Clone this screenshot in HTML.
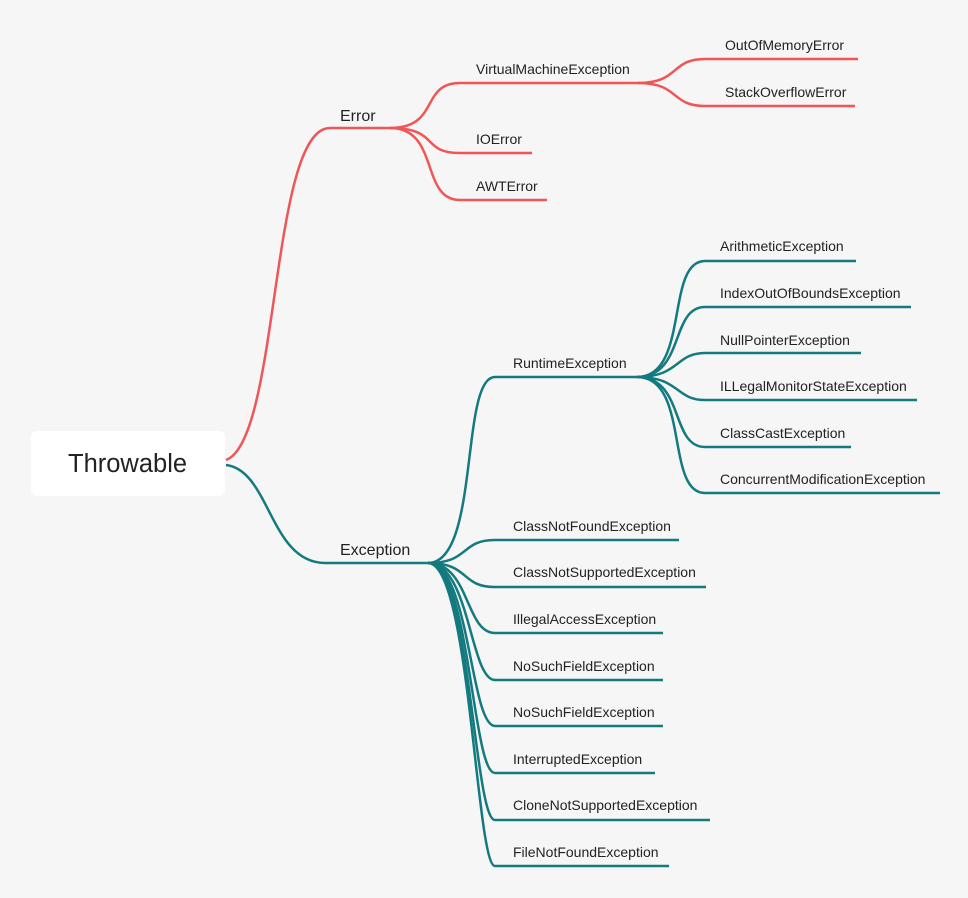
<!DOCTYPE html>
<html><head><meta charset="utf-8"><style>
html,body{margin:0;padding:0;background:#f6f6f6;width:968px;height:898px;overflow:hidden}
svg{display:block}
text{font-family:"Liberation Sans",sans-serif;fill:#222}
</style></head><body>
<svg width="968" height="898" viewBox="0 0 968 898" xmlns="http://www.w3.org/2000/svg">
<rect x="31" y="431" width="194" height="65" rx="6" fill="#fff"/>
<text x="68" y="472" font-size="25.5" fill="#333">Throwable</text>
<g fill="none" stroke="#f05557" stroke-width="2.5">
<path d="M226 460 C280 440, 270 128, 330 128 L390 128"/>
<path d="M390 128 C440 128, 420 83, 460 83 L640 83"/>
<path d="M390 128 C440 128, 420 153, 460 153 L532 153"/>
<path d="M390 128 C440 128, 420 200, 460 200 L547 200"/>
<path d="M638 83 C680 83, 670 59, 705 59 L858 59"/>
<path d="M638 83 C680 83, 670 106, 705 106 L855 106"/>
</g>
<g fill="none" stroke="#137a7f" stroke-width="2.5">
<path d="M226 465 C270 470, 270 563, 325 563 L428 563"/>
<path d="M428 563 C480 563, 460 377, 495 377 L637 377"/>
<path d="M428 563 C470 563, 460 540, 495 540 L679 540"/>
<path d="M428 563 C470 563, 460 587, 495 587 L706 587"/>
<path d="M428 563 C470 563, 465 633, 495 633 L663 633"/>
<path d="M428 563 C470 563, 470 680, 495 680 L663 680"/>
<path d="M428 563 C470 563, 470 726, 495 726 L663 726"/>
<path d="M428 563 C470 563, 472 773, 495 773 L655 773"/>
<path d="M428 563 C470 563, 474 820, 495 820 L710 820"/>
<path d="M428 563 C470 563, 476 866, 495 866 L669 866"/>
<path d="M637 377 C690 377, 665 261, 705 261 L856 261"/>
<path d="M637 377 C685 377, 670 307, 705 307 L911 307"/>
<path d="M637 377 C680 377, 675 353, 705 353 L861 353"/>
<path d="M637 377 C680 377, 675 400, 705 400 L917 400"/>
<path d="M637 377 C685 377, 670 447, 705 447 L851 447"/>
<path d="M637 377 C690 377, 665 493, 705 493 L940 493"/>
</g>
<text x="340" y="121" font-size="16">Error</text>
<text x="340" y="555" font-size="16">Exception</text>
<g font-size="14">
<text x="476" y="74">VirtualMachineException</text>
<text x="476" y="144">IOError</text>
<text x="476" y="191">AWTError</text>
<text x="725" y="50">OutOfMemoryError</text>
<text x="725" y="97">StackOverflowError</text>
<text x="513" y="368">RuntimeException</text>
<text x="513" y="531">ClassNotFoundException</text>
<text x="513" y="577">ClassNotSupportedException</text>
<text x="513" y="624">IllegalAccessException</text>
<text x="513" y="671">NoSuchFieldException</text>
<text x="513" y="717">NoSuchFieldException</text>
<text x="513" y="764">InterruptedException</text>
<text x="513" y="810">CloneNotSupportedException</text>
<text x="513" y="857">FileNotFoundException</text>
<text x="720" y="251">ArithmeticException</text>
<text x="720" y="298">IndexOutOfBoundsException</text>
<text x="720" y="345">NullPointerException</text>
<text x="720" y="391">ILLegalMonitorStateException</text>
<text x="720" y="438">ClassCastException</text>
<text x="720" y="484">ConcurrentModificationException</text>
</g>
</svg>
</body></html>
